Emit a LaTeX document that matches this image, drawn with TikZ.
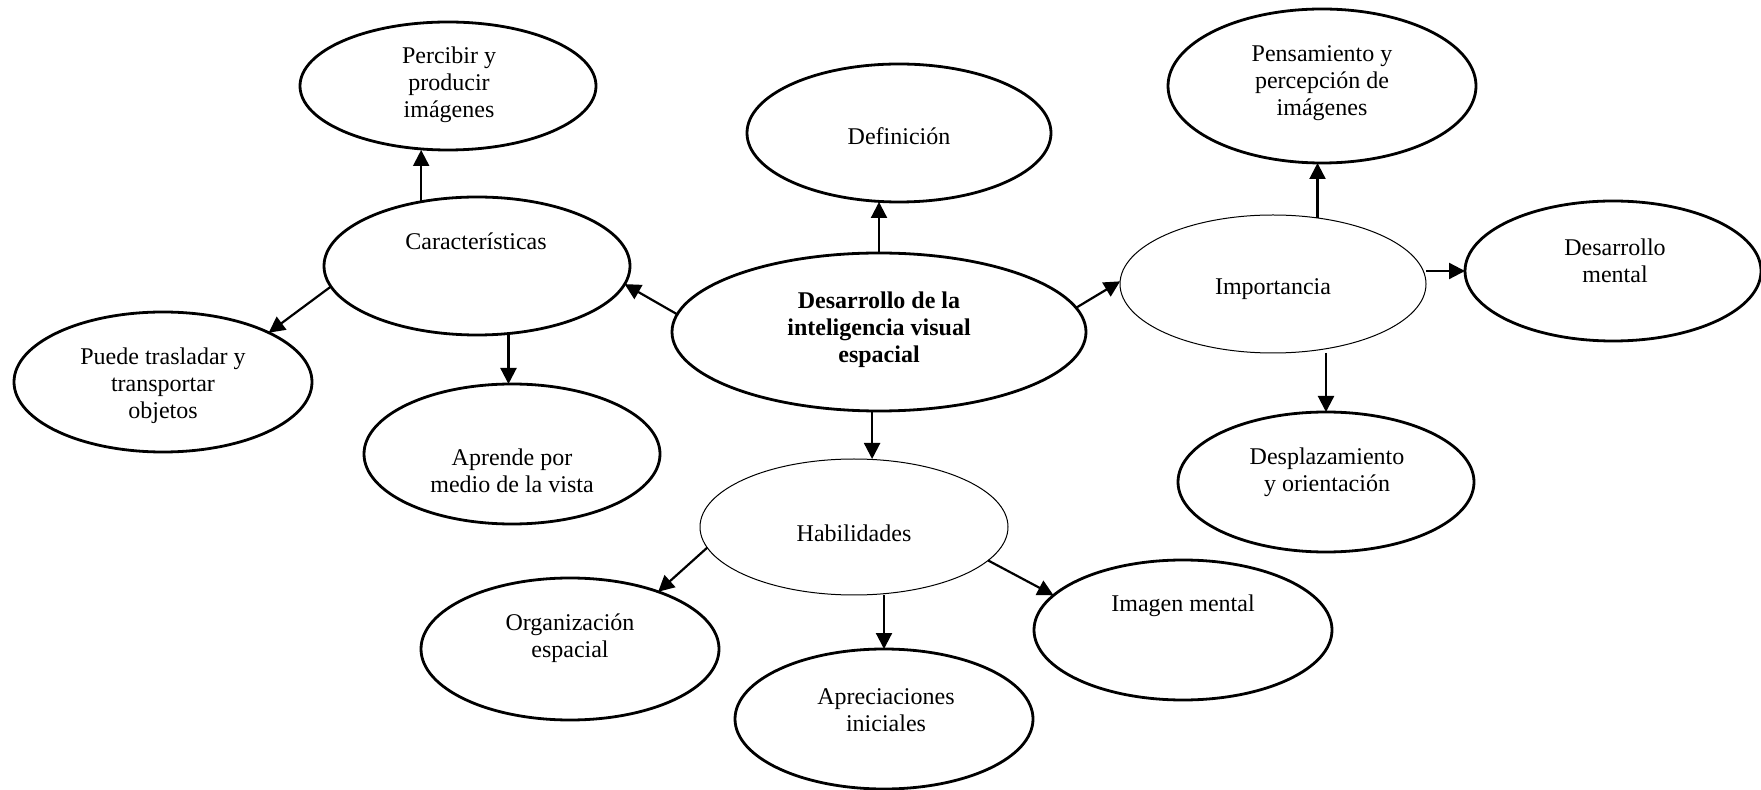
\documentclass[tikz,border=0pt]{standalone}
\usepackage{fontspec}
\setmainfont{Liberation Serif}
\usetikzlibrary{shapes.geometric,arrows.meta}
\begin{document}
\begin{tikzpicture}[x=0.5pt,y=-0.5pt,
 ell/.style={ellipse, draw, line width=1.4pt, inner sep=0pt, outer sep=0pt},
 thinell/.style={ellipse, draw, line width=0.5pt, inner sep=0pt, outer sep=0pt},
 txt/.style={align=center, font=\fontsize{12}{13.5}\selectfont, inner sep=0pt},
 arr/.style={-{Triangle[length=8pt,width=8pt]}, line width=1.1pt}]
\useasboundingbox (0,0) rectangle (1761,790);
% ellipses
\node[ell, minimum width=148pt, minimum height=64pt] (per) at (448,86) {};
\node[ell, minimum width=153pt, minimum height=69pt] (car) at (477,266) {};
\node[ell, minimum width=149pt, minimum height=70pt] (pue) at (163,382) {};
\node[ell, minimum width=148pt, minimum height=70pt] (apr) at (512,454) {};
\node[ell, minimum width=152pt, minimum height=69pt] (def) at (899,133) {};
\node[ell, minimum width=207pt, minimum height=79pt] (cen) at (879,332) {};
\node[thinell, minimum width=154pt, minimum height=68pt] (hab) at (854,527) {};
\node[ell, minimum width=149pt, minimum height=71pt] (org) at (570,649) {};
\node[ell, minimum width=149pt, minimum height=70pt] (apc) at (884,719) {};
\node[ell, minimum width=149pt, minimum height=70pt] (img) at (1183,630) {};
\node[ell, minimum width=154pt, minimum height=77pt] (pen) at (1322,86) {};
\node[thinell, minimum width=153pt, minimum height=69pt] (imp) at (1273,284) {};
\node[ell, minimum width=148pt, minimum height=70pt] (dm) at (1613,271) {};
\node[ell, minimum width=148pt, minimum height=70pt] (dsp) at (1326,482) {};
% texts
\node[txt] (tper) at (449,85) {Percibir y\\producir\\imágenes};
\node[txt] (tcar) at (476,241) {Características};
\node[txt] (tpue) at (163,386) {Puede trasladar y\\transportar\\objetos};
\node[txt] (tapr) at (512,471) {Aprende por\\medio de la vista};
\node[txt] (tdef) at (899,136) {Definición};
\node[txt, font=\fontsize{12}{13.5}\selectfont\bfseries] (tcen) at (879,330) {Desarrollo de la\\inteligencia visual\\espacial};
\node[txt] (thab) at (854,533) {Habilidades};
\node[txt] (torg) at (570,638) {Organización\\espacial};
\node[txt] (tapc) at (886,710) {Apreciaciones\\iniciales};
\node[txt] (timg) at (1183,606) {Imagen mental};
\node[txt] (tpen) at (1322,83) {Pensamiento y\\percepción de\\imágenes};
\node[txt] (timp) at (1273,289) {Importancia};
\node[txt] (tdm) at (1615,261) {Desarrollo\\mental};
\node[txt] (tdsp) at (1327,472) {Desplazamiento\\y orientación};
% connectors
\draw[arr] (car.131) -- (car.131 |- per.south);
\draw[arr] (cen.175) -- (car.353);
\draw[arr] (car.188) -- (pue.25);
\draw[arr] (car.295) -- (car.295 |- apr.north);
\draw[arr] (cen.north) -- (cen.north |- def.south);
\draw[arr] (cen.265) -- (cen.265 |- hab.north);
\draw[arr] (cen.7) -- (imp.179);
\draw[arr] (imp.56) -- (imp.56 |- pen.south);
\draw[arr] (dm.west -| imp.east) -- (dm.west);
\draw[arr] (dsp.north |- imp.south) -- (dsp.north);
\draw[arr] (hab.188) -- (org.33);
\draw[arr] (apc.north |- hab.south) -- (apc.north);
\draw[arr] (hab.346) -- (img.165);
\end{tikzpicture}
\end{document}
